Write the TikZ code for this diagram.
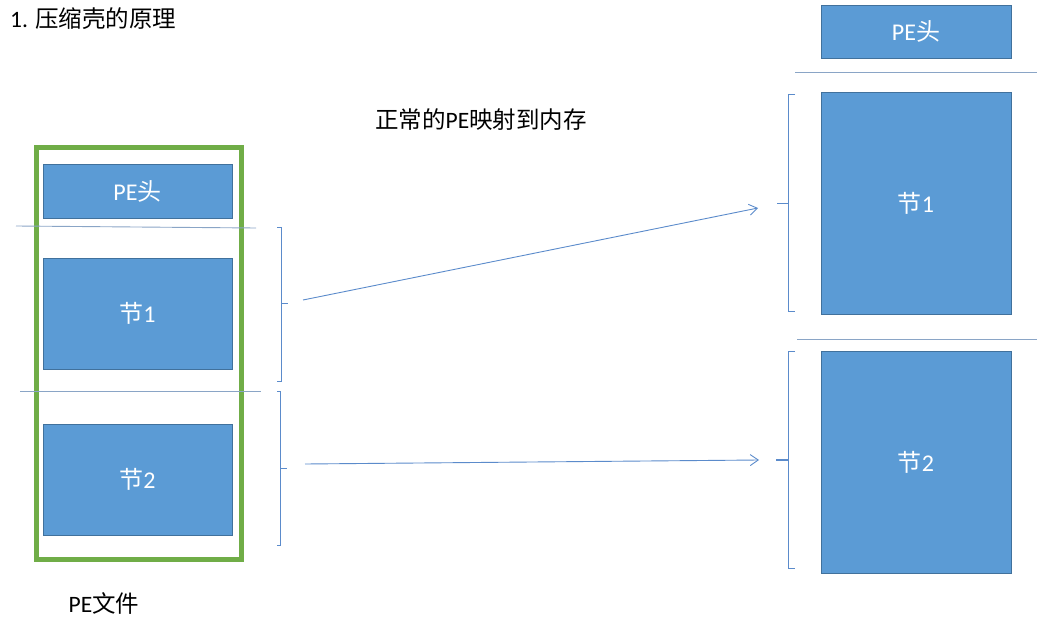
\documentclass[tikz,border=0pt]{standalone}
\usepackage{fontspec}
\setmainfont{Carlito}
\newfontfamily\cjk{Noto Sans CJK SC}
\usetikzlibrary{arrows.meta}
\definecolor{boxblue}{HTML}{5B9BD5}
\definecolor{boxedge}{HTML}{41719C}
\definecolor{filegreen}{HTML}{70AD47}
\definecolor{linkblue}{HTML}{5B8BCB}
\definecolor{divider}{HTML}{8AA5C6}
\tikzset{
  blk/.style={draw=boxedge, fill=boxblue, line width=0.8pt, inner sep=0pt,
    text=white, font=\fontsize{24}{28}\selectfont, minimum width=189pt},
  frame/.style={draw=filegreen, line width=5pt, inner sep=0pt},
  brk/.style={draw=linkblue, line width=0.9pt},
  divline/.style={draw=divider, line width=0.9pt},
  link/.style={draw=linkblue, line width=0.9pt, -{Straight Barb[length=8pt,width=11pt]}},
  lbl/.style={inner sep=0pt, font=\fontsize{23.5}{28}\selectfont}
}
\begin{document}
\begin{tikzpicture}[x=1pt,y=-1pt]
\useasboundingbox (0,0) rectangle (1037,623);
% title
\node[lbl, anchor=west] (title) at (10,19) {1. {\cjk 压缩壳的原理}};
\node[lbl] (normal) at (481,120) {{\cjk 正常的}PE{\cjk 映射到内存}};
\node[lbl] (pefile) at (104,603) {PE{\cjk 文件}};
% left file
\node[frame, minimum width=205pt, minimum height=411pt] (file) at (138.5,353.5) {};
\node[blk, minimum height=54pt] (lhead) at (137.5,191) {PE{\cjk 头}};
\node[blk, minimum height=111pt] (lsec1) at (137.5,313.5) {{\cjk 节}1};
\node[blk, minimum height=111pt] (lsec2) at (137.5,479.5) {{\cjk 节}2};
% right memory
\node[blk, minimum width=190pt, minimum height=53pt] (rhead) at (916,31.5) {PE{\cjk 头}};
\node[blk, minimum width=190pt, minimum height=222pt] (rsec1) at (916,203) {{\cjk 节}1};
\node[blk, minimum width=190pt, minimum height=222pt] (rsec2) at (916,462) {{\cjk 节}2};
% divider lines
\draw[divline] (16,226) -- (256,228);
\draw[divline] (20,391) -- (261,391);
\draw[divline] (795,72) -- (1037,72);
\draw[divline] (797,339) -- (1037,339);
% left brackets
\draw[brk] (277,227) -- (281,227) -- (281,381) -- (277,381);
\draw[brk] (281,303) -- (288,303);
\draw[brk] (277,391) -- (280,391) -- (280,545) -- (277,545);
\draw[brk] (280,468) -- (287,468);
% right brackets
\draw[brk] (795,94) -- (788,94) -- (788,311) -- (795,311);
\draw[brk] (788,203) -- (777,203);
\draw[brk] (795,351) -- (788,351) -- (788,568) -- (795,568);
\draw[brk, line width=1.6pt] (788,460) -- (776,460);
% connectors
\coordinate (s1) at (303,300);
\coordinate (e1) at (758,208);
\coordinate (s2) at (305,464);
\coordinate (e2) at (759,460);
\draw[link] (s1) -- (e1);
\draw[link] (s2) -- (e2);
\end{tikzpicture}
\end{document}
